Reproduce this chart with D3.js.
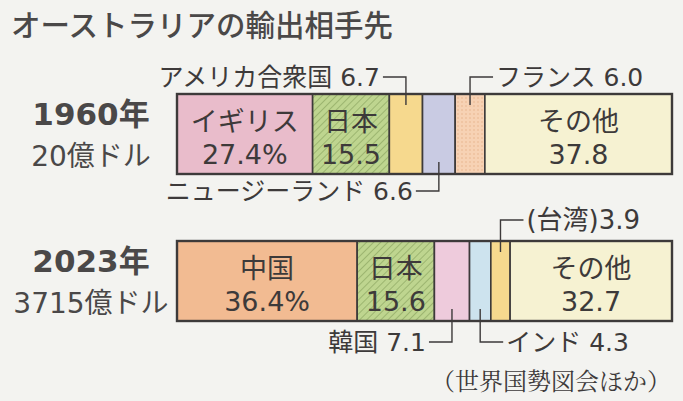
<!DOCTYPE html>
<html>
<head>
<meta charset="utf-8">
<script src="https://cdn.jsdelivr.net/npm/d3@7"></script>
<style>
  body { margin: 0; background: #f3f3f0; }
  svg { display: block; font-family: "DejaVu Sans", "Noto Sans CJK JP", sans-serif; }
</style>
</head>
<body>
<svg width="683" height="401"></svg>
<script>
const years = ["1960年", "2023年"];
const totals = ["20億ドル", "3715億ドル"];

const partners1960 = ["イギリス", "日本", "アメリカ合衆国", "ニュージーランド", "フランス", "その他"];
const shares1960 = [27.4, 15.5, 6.7, 6.6, 6.0, 37.8];

const partners2023 = ["中国", "日本", "韓国", "インド", "(台湾)", "その他"];
const shares2023 = [36.4, 15.6, 7.1, 4.3, 3.9, 32.7];

const source = "（世界国勢図会ほか）";

// fill per partner (style, kept apart from the values)
const fills = {
  "イギリス": "#e9bccb",
  "日本": "url(#hatch)",
  "アメリカ合衆国": "#f6d98e",
  "ニュージーランド": "#c9cbe3",
  "フランス": "url(#dots)",
  "その他": "#f6f2d2",
  "中国": "#f2bb92",
  "韓国": "#eecbdc",
  "インド": "#cde3ee",
  "(台湾)": "#f6d98e"
};

// where the small slices put their call-out label
const callout = {
  "アメリカ合衆国": { side: "top", dir: "left" },
  "フランス": { side: "top", dir: "right" },
  "ニュージーランド": { side: "bottom", dir: "left" },
  "韓国": { side: "bottom", dir: "left" },
  "インド": { side: "bottom", dir: "right" },
  "(台湾)": { side: "top", dir: "right", tight: true }
};

const svg = d3.select("svg");
const ink = "#3d3a3a";

const defs = svg.append("defs");
const hatch = defs.append("pattern")
  .attr("id", "hatch").attr("patternUnits", "userSpaceOnUse")
  .attr("width", 5).attr("height", 5)
  .attr("patternTransform", "rotate(45)");
hatch.append("rect").attr("width", 5).attr("height", 5).attr("fill", "#bed58f");
hatch.append("line").attr("x1", 0).attr("y1", 0).attr("x2", 0).attr("y2", 5)
  .attr("stroke", "#93ad68").attr("stroke-width", 1.6);

const dots = defs.append("pattern")
  .attr("id", "dots").attr("patternUnits", "userSpaceOnUse")
  .attr("width", 4).attr("height", 4);
dots.append("rect").attr("width", 4).attr("height", 4).attr("fill", "#f7d2b4");
dots.append("circle").attr("cx", 2).attr("cy", 2).attr("r", 0.8).attr("fill", "#e9b48e");

svg.append("text")
  .attr("x", 11).attr("y", 36)
  .attr("font-family", "Noto Sans CJK JP")
  .attr("font-size", 29.5).attr("font-weight", 500)
  .attr("fill", "#4a4848")
  .text("オーストラリアの輸出相手先");

const x = d3.scaleLinear().domain([0, 100]).range([177, 672]);
const barH = 80;

const rows = [
  { year: years[0], total: totals[0], names: partners1960, values: shares1960 },
  { year: years[1], total: totals[1], names: partners2023, values: shares2023 }
];

rows.forEach((row, ri) => {
  const top = 94 + ri * 147;
  const g = svg.append("g");

  g.append("text")
    .attr("x", 91).attr("y", top + 31)
    .attr("text-anchor", "middle")
    .attr("font-size", 31).attr("font-weight", 700)
    .attr("fill", "#4a4848")
    .text(row.year);
  g.append("text")
    .attr("x", 91).attr("y", top + 72)
    .attr("text-anchor", "middle")
    .attr("font-size", 28)
    .attr("fill", "#4a4848")
    .text(row.total);

  let acc = 0;
  const segs = row.names.map((n, i) => {
    const s = { name: n, value: row.values[i], x0: acc, x1: acc + row.values[i], i };
    acc += row.values[i];
    return s;
  });

  g.selectAll("rect.seg")
    .data(segs)
    .join("rect")
      .attr("class", "seg")
      .attr("x", d => x(d.x0))
      .attr("y", top)
      .attr("width", d => x(d.x1) - x(d.x0))
      .attr("height", barH)
      .attr("fill", d => fills[d.name])
      .attr("stroke", ink)
      .attr("stroke-width", 1.6);

  g.append("rect")
    .attr("x", x(0)).attr("y", top)
    .attr("width", x(100) - x(0)).attr("height", barH)
    .attr("fill", "none").attr("stroke", ink).attr("stroke-width", 2.4);

  // labels inside the wide slices
  segs.filter(d => !callout[d.name]).forEach(d => {
    const cx = (x(d.x0) + x(d.x1)) / 2;
    g.append("text")
      .attr("x", cx).attr("y", top + 37)
      .attr("text-anchor", "middle")
      .attr("font-size", 27).attr("fill", ink)
      .text(d.name);
    g.append("text")
      .attr("x", cx).attr("y", top + 70)
      .attr("text-anchor", "middle")
      .attr("font-size", 27).attr("fill", ink)
      .text(d.value.toFixed(1) + (d.i === 0 ? "%" : ""));
  });

  // call-outs for the narrow slices
  segs.filter(d => callout[d.name]).forEach(d => {
    const c = callout[d.name];
    const cx = (x(d.x0) + x(d.x1)) / 2;
    const gap = ri === 0 ? 17 : 21;
    const ly = c.side === "top" ? top - gap : top + barH + gap;
    const inner = c.side === "top" ? top + 11 : top + barH - 12;
    const len = 23;
    const ex = c.dir === "left" ? cx - len : cx + len;
    g.append("path")
      .attr("d", `M${ex},${ly}H${cx}V${inner}`)
      .attr("fill", "none").attr("stroke", ink).attr("stroke-width", 1.4);
    g.append("text")
      .attr("x", c.dir === "left" ? ex - 3 : ex + 3)
      .attr("y", ly + 9)
      .attr("text-anchor", c.dir === "left" ? "end" : "start")
      .attr("font-size", c.tight ? 26 : 25).attr("fill", ink)
      .text(d.name + (c.tight ? "" : " ") + d.value.toFixed(1));
  });
});

svg.append("text")
  .attr("x", 671).attr("y", 390)
  .attr("text-anchor", "end")
  .attr("font-family", "Noto Serif CJK JP, Noto Sans CJK JP")
  .attr("font-size", 24).attr("fill", ink)
  .text(source);
</script>
</body>
</html>
